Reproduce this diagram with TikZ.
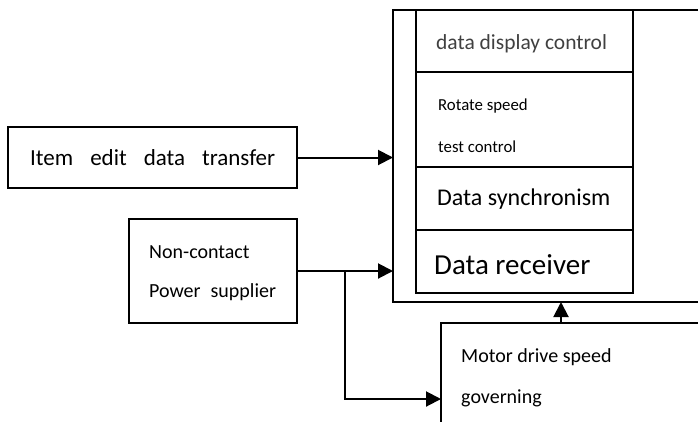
\documentclass[tikz,border=0pt]{standalone}
\usepackage{fontspec}
\setmainfont{Carlito}
\usetikzlibrary{positioning,calc,arrows.meta}

\begin{document}
\begin{tikzpicture}[x=1pt, y=-1pt,
    box/.style={draw, line width=1.8pt, rectangle, inner sep=0pt, outer sep=0pt},
    txt/.style={anchor=west, inner sep=0pt},
    link/.style={line width=2pt, -{Triangle[length=15pt,width=15pt]}}
]
    \clip (0,0) rectangle (698,421);

    % main unit (runs off the right edge)
    \node [box, minimum width=330pt, minimum height=292pt] (unit) at (558,156) {};

    % stacked blocks inside the unit
    \node [box, minimum width=217pt, minimum height=62pt] (disp) at (524.5,41) {};
    \node [box, minimum width=217pt, minimum height=95pt, below=0pt of disp] (rot) {};
    \node [box, minimum width=217pt, minimum height=63pt, below=0pt of rot] (sync) {};
    \node [box, minimum width=217pt, minimum height=63pt, below=0pt of sync] (recv) {};

    \node [txt, font=\fontsize{21.5}{24}\selectfont, text=black!75] at (436,44) {data display control};
    \node [txt, font=\fontsize{16.8}{19}\selectfont] at (438,106) {Rotate speed};
    \node [txt, font=\fontsize{16.8}{19}\selectfont] at (438,147) {test control};
    \node [txt, font=\fontsize{24}{28}\selectfont] at (437,199) {Data synchronism};
    \node [txt, font=\fontsize{29}{34}\selectfont] at (434,265) {Data receiver};

    % left side inputs
    \node [box, minimum width=289pt, minimum height=61pt] (item) at (152.5,157.5) {};
    \node [txt, font=\fontsize{23}{27}\selectfont] at (30,158) {Item\hskip17pt edit\hskip17pt data\hskip17pt transfer};

    \node [box, minimum width=168pt, minimum height=104pt] (power) at (213,271) {};
    \node [txt, font=\fontsize{20}{24}\selectfont] at (149,252) {Non-contact};
    \node [txt, font=\fontsize{20}{24}\selectfont] at (149,292) {Power\hskip10pt supplier};

    % motor block (runs off the right and bottom edges)
    \node [box, minimum width=290pt, minimum height=130pt] (motor) at (586,388) {};
    \node [txt, font=\fontsize{20}{24}\selectfont] at (461,357) {Motor drive speed};
    \node [txt, font=\fontsize{20}{24}\selectfont] at (461,398) {governing};

    % connections
    \coordinate (split) at (345,271);
    \coordinate (turn) at (345,399);
    \coordinate (mtop) at (561,323);
    \draw [link] (item.east) -- (item.east -| unit.west);
    \draw [link] (power.east) -- (power.east -| unit.west);
    \draw [link] (split) -- (turn) -- (turn -| motor.west);
    \draw [link] (mtop) -- (mtop |- unit.south);
\end{tikzpicture}
\end{document}
